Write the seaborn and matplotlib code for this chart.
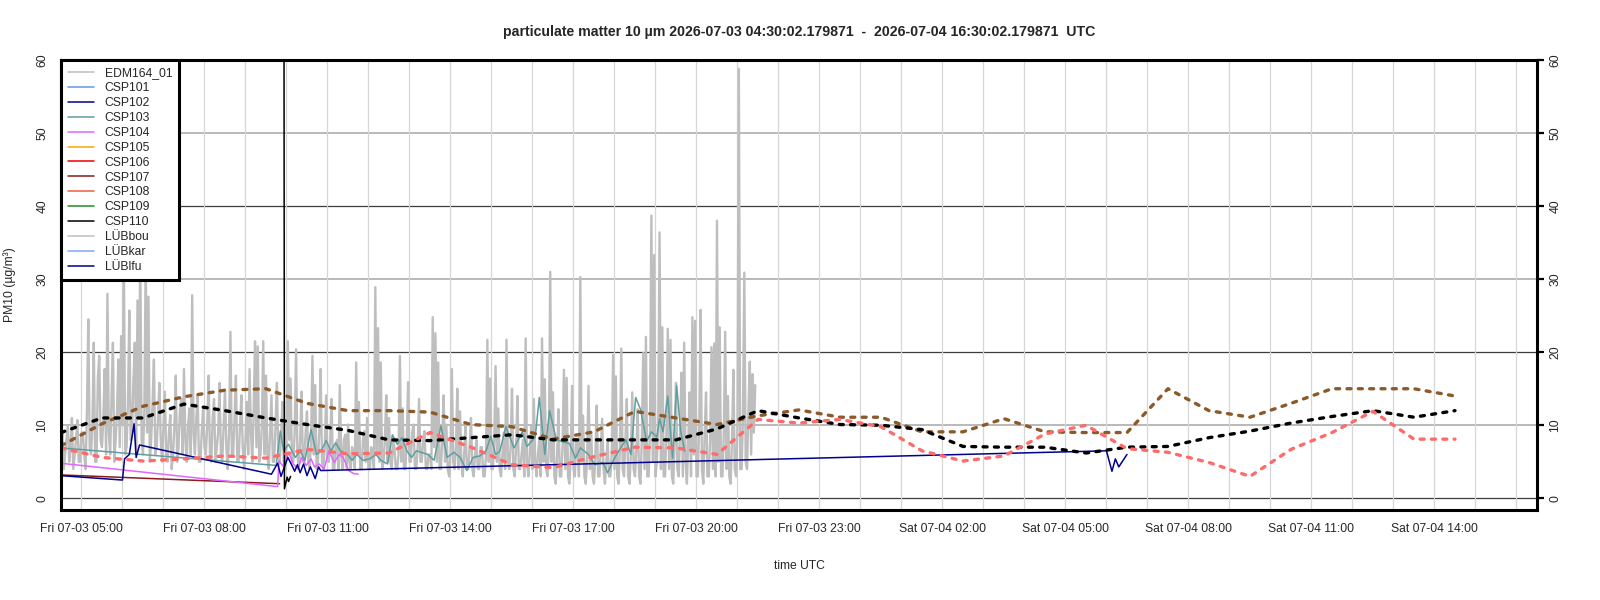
import pandas as pd
import matplotlib
matplotlib.use("Agg")
import matplotlib.pyplot as plt
import matplotlib.dates as mdates
from matplotlib.lines import Line2D
import seaborn as sns

# EDM164_01 reference monitor, 2 minute values starting 2026-07-03 04:30 (one row per hour)
edm_pm10 = [
    7, 9, 4, 6, 8, 10, 5, 7, 11, 4, 6, 8, 10.7, 5, 5, 9, 9, 6, 4, 12, 24.5, 7, 6, 10, 21.3, 5, 5, 16.5, 19.5, 8,
    7, 11, 17.7, 6, 28, 9, 6, 14, 21.3, 5, 8, 12, 19, 7, 22.2, 10, 33, 6, 7, 13, 25.7, 8, 9, 16, 21.3, 6, 27.1, 11, 34, 8,
    6, 12, 33, 9, 27.6, 5, 8, 13, 19, 6, 7, 11, 15.8, 8, 5, 10, 14.6, 6, 5, 9, 11.4, 4, 6, 10, 16.8, 5, 7, 12, 13.6, 6,
    17.7, 8, 5, 10, 12.3, 6, 27.8, 9, 6, 11, 14.1, 5, 5, 9, 12.3, 7, 6, 10, 16.8, 6, 5, 11, 13.6, 5, 7, 9, 15.8, 6, 5, 10,
    14.9, 7, 4, 9, 22.8, 6, 6, 11, 16.8, 5, 5, 10, 14.1, 7, 4, 8, 13.2, 6, 17.7, 9, 5, 12, 21.5, 7, 20.8, 5, 6, 10, 21.5, 6,
    16.8, 6, 4, 9, 14.1, 5, 5, 10, 15.8, 6, 5, 8, 13.2, 5, 4, 7, 21.5, 8, 16.4, 5, 5, 9, 20.4, 6, 4, 8, 14.6, 5, 5, 9,
    11.9, 5, 4, 8, 19.5, 6, 15.5, 4, 5, 9, 17.7, 5, 4, 7, 14.1, 5, 5, 8, 13.6, 4, 4, 7, 8, 4, 15.5, 6, 4, 8, 8.7, 4,
    10.1, 5, 4, 7, 6, 4, 18.6, 6, 13.2, 4, 4, 8, 9.2, 5, 11, 4, 4, 7, 6, 4, 28.9, 6, 23.3, 5, 18.6, 4, 5, 8, 14.1, 5,
    11, 5, 4, 8, 7, 4, 4, 6, 19.5, 5, 12.3, 4, 4, 8, 15.9, 5, 5, 9, 10.1, 4, 4, 7, 13.6, 5, 5, 8, 9.2, 4, 4, 6,
    6, 4, 24.8, 7, 22.6, 5, 18.6, 4, 4, 8, 14.1, 5, 10.1, 4, 3, 6, 17.7, 5, 4, 7, 15, 4, 11.9, 5, 3, 6, 10.1, 4, 4, 7,
    11, 4, 3, 6, 8, 4, 4, 7, 7, 3, 3, 6, 21.7, 5, 16.4, 4, 4, 8, 18.1, 5, 12.3, 4, 3, 6, 9, 4, 21.7, 5, 4, 7,
    15, 4, 3, 7, 14, 4, 4, 6, 8, 3, 21.9, 5, 3, 6, 10, 4, 13.6, 5, 3, 6, 8, 3, 21.9, 5, 16.3, 4, 3, 7, 31, 5,
    14.5, 3, 2, 6, 12.2, 3, 3, 7, 17.6, 4, 16.5, 3, 2, 6, 15.4, 4, 3, 8, 8, 3, 30.3, 5, 11.3, 3, 2, 6, 15.4, 4, 9.1, 3,
    2, 6, 12.7, 3, 3, 7, 10.9, 4, 2, 5, 8, 3, 3, 6, 19.6, 4, 16.7, 3, 2, 7, 20.5, 4, 3, 8, 13.6, 3, 2, 6, 14.5, 4,
    3, 7, 12.2, 3, 2, 8, 19.9, 4, 22.1, 3, 3, 9, 38.7, 5, 33.3, 3, 5, 10, 36.4, 4, 23.4, 3, 3, 9, 23.2, 4, 21.7, 3, 2, 8,
    15.8, 4, 3, 9, 17.2, 3, 21.3, 5, 2, 8, 14.5, 3, 24.8, 6, 24.3, 3, 3, 10, 25.8, 4, 2, 9, 14.5, 3, 3, 8, 20.7, 4, 21.2, 3,
    38, 5, 23.4, 3, 3, 9, 22.8, 4, 14, 3, 2, 8, 17.6, 4, 3, 10, 58.8, 4, 4, 11, 30.9, 5, 4, 12, 18.7, 6, 17, 9, 15.5,
]

# low cost sensors (irregular times)
csp102_time = ["07-03 04:30", "07-03 06:00", "07-03 06:03", "07-03 06:10", "07-03 06:17",
               "07-03 06:20", "07-03 06:25", "07-03 09:38", "07-03 09:47", "07-03 09:52",
               "07-03 10:02", "07-03 10:08", "07-03 10:12", "07-03 10:16", "07-03 10:20",
               "07-03 10:25", "07-03 10:30", "07-03 10:35", "07-03 10:42", "07-03 10:47",
               "07-03 10:50", "07-04 06:00", "07-04 06:08", "07-04 06:13", "07-04 06:18",
               "07-04 06:30"]
csp102_pm10 = [3.1, 2.5, 5.4, 6.0, 10.2, 5.6, 7.3, 3.3, 4.8, 3.0,
               5.6, 4.5, 3.7, 4.6, 3.5, 4.7, 3.1, 4.3, 2.7, 4.3,
               3.8, 6.5, 3.7, 5.4, 4.3, 6.0]

csp103_time = ["04:30", "09:45", "09:51", "09:56", "10:03", "10:13", "10:20", "10:27", "10:36",
               "10:44", "10:51", "10:58", "11:05", "11:12", "11:19", "11:29", "11:36", "11:43",
               "11:52", "12:02", "12:11", "12:18", "12:28", "12:35", "12:42", "12:49", "12:56",
               "13:03", "13:10", "13:17", "13:27", "13:36", "13:46", "13:55", "14:05", "14:14",
               "14:24", "14:33", "14:43", "14:52", "14:59", "15:06", "15:12", "15:21", "15:33",
               "15:45", "15:52", "16:04", "16:10", "16:18", "16:25", "16:35", "16:54", "17:03",
               "17:10", "17:22", "17:31", "17:43", "17:50", "18:00", "18:09", "18:17", "18:24",
               "18:31", "18:38", "18:47", "18:54", "19:02", "19:06", "19:11", "19:18", "19:25",
               "19:31", "19:37", "19:43"]
csp103_pm10 = [6.9, 4.5, 9.2, 6.5, 7.4, 5.6, 6.5, 5.2, 9.4,
               6.0, 6.5, 7.9, 6.5, 7.6, 6.5, 6.0, 5.2, 6.0,
               5.2, 5.4, 6.0, 5.2, 4.7, 8.7, 7.4, 8.3, 6.5,
               5.6, 6.5, 6.3, 6.0, 5.2, 9.9, 5.6, 6.3, 5.6,
               3.8, 5.6, 5.8, 6.5, 8.5, 6.0, 6.4, 9.8, 6.9,
               9.1, 7.1, 8.4, 13.8, 6.0, 12.0, 8.0, 7.5, 5.5,
               6.9, 6.0, 4.6, 4.9, 3.5, 5.5, 6.9, 8.0, 6.0,
               13.8, 12.2, 7.8, 9.1, 8.4, 10.9, 9.1, 14.0, 5.5,
               15.4, 9.1, 6.4]

csp104_time = ["04:30", "09:47", "09:49", "09:56", "10:03", "10:10", "10:17", "10:22", "10:29",
               "10:36", "10:41", "10:48", "10:55", "11:02", "11:10", "11:17", "11:23", "11:31",
               "11:38", "11:45"]
csp104_pm10 = [4.8, 1.6, 5.1, 4.3, 6.3, 4.7, 4.0, 5.6, 4.5,
               5.4, 4.3, 4.7, 4.0, 6.5, 4.9, 6.0, 5.6, 3.8,
               3.4, 3.3]

csp107_time = ["04:30", "09:50"]
csp107_pm10 = [3.2, 2.0]

csp110_time = ["09:54", "09:57", "10:01", "10:03", "10:06"]
csp110_pm10 = [300, 1.3, 2.9, 2.3, 3.0]

# hourly model forecasts (not in legend), values at hh:30
model_brown = [7.2, 10.2, 12.6, 13.9, 14.8, 15.0, 13.0, 12.0, 12.0, 11.8, 10.1, 9.8,
               8.1, 9.1, 11.9, 11.0, 10.1, 11.3, 12.1, 11.1, 11.1, 9.1, 9.1, 10.9,
               9.1, 9.0, 9.0, 15.0, 12.0, 11.1, 13.0, 15.0, 15.0, 15.0, 14.0]
model_black = [9.0, 11.0, 11.0, 12.9, 12.0, 11.0, 10.1, 9.3, 8.0, 7.9, 8.3, 8.7,
               8.0, 8.0, 8.0, 8.0, 9.5, 12.0, 11.0, 10.1, 10.0, 9.4, 7.1, 7.0,
               7.0, 6.2, 7.0, 7.1, 8.3, 9.2, 10.3, 11.2, 12.0, 11.1, 12.0]
model_salmon = [6.9, 5.6, 5.1, 5.4, 5.8, 5.5, 6.7, 6.1, 6.2, 9.0, 7.0, 4.6,
                4.2, 5.7, 7.0, 6.9, 6.0, 10.8, 10.3, 10.8, 9.8, 6.5, 5.1, 5.8,
                8.8, 10.0, 6.8, 6.3, 4.9, 3.0, 6.7, 9.0, 11.9, 8.1, 8.1]

legend_names = ["EDM164_01", "CSP101", "CSP102", "CSP103", "CSP104", "CSP105", "CSP106",
                "CSP107", "CSP108", "CSP109", "CSP110", "LÜBbou", "LÜBkar", "LÜBlfu"]
legend_colors = ["#bebebe", "#6495ed", "#00008b", "#5f9ea0", "#e066ff", "#ffa500", "#ee0000",
                 "#8b1a1a", "#ee5c42", "#228b22", "#000000", "#bebebe", "#7eaaf0", "#00008b"]
colors = dict(zip(legend_names, legend_colors))


def fri(times):
    return pd.to_datetime(["2026-07-03 " + t for t in times])


edm_time = pd.date_range("2026-07-03 04:30", periods=len(edm_pm10), freq="2min")
model_time = pd.date_range("2026-07-03 04:30", periods=len(model_brown), freq="h")

sns.set_style("white")
plt.rcParams["font.family"] = ["Liberation Sans", "DejaVu Sans"]

fig = plt.figure(figsize=(16, 6), dpi=100)
ax = fig.add_axes([61 / 1600, 90 / 600, 1476 / 1600, 450 / 600])

# horizontal grid, alternating dark / grey
for v in range(0, 61, 10):
    if v % 20 == 0:
        ax.axhline(v, color="#3c3c3c", lw=0.9, zorder=0.5)
    else:
        ax.axhline(v, color="#a6a6a6", lw=1.1, zorder=0.5)

sns.lineplot(x=edm_time, y=edm_pm10, ax=ax, color=colors["EDM164_01"], lw=1.7, estimator=None)
sns.lineplot(x=fri(csp107_time), y=csp107_pm10, ax=ax, color=colors["CSP107"], lw=1.1, estimator=None)
sns.lineplot(x=fri(csp104_time), y=csp104_pm10, ax=ax, color=colors["CSP104"], lw=1.1, estimator=None)
sns.lineplot(x=fri(csp103_time), y=csp103_pm10, ax=ax, color=colors["CSP103"], lw=1.1, estimator=None)
sns.lineplot(x=pd.to_datetime(["2026-" + t for t in csp102_time]), y=csp102_pm10, ax=ax,
             color=colors["CSP102"], lw=1.1, estimator=None)
sns.lineplot(x=fri(csp110_time), y=csp110_pm10, ax=ax, color=colors["CSP110"], lw=1.1,
             estimator=None, sort=False)

for vals, col in [(model_brown, "#8b5a2b"), (model_black, "#000000"), (model_salmon, "#ff6a6a")]:
    sns.lineplot(x=model_time, y=vals, ax=ax, color=col, lw=2.4, estimator=None)
    ax.lines[-1].set_linestyle((0, (1.2, 2.2)))
    ax.lines[-1].set_dash_capstyle("round")

ax.set_xlim(pd.Timestamp("2026-07-03 04:30:02"), pd.Timestamp("2026-07-04 16:30:02"))
ax.set_ylim(-1.6, 60)

ax.xaxis.set_major_locator(mdates.HourLocator(byhour=[2, 5, 8, 11, 14, 17, 20, 23]))
ax.xaxis.set_minor_locator(mdates.HourLocator())
ax.xaxis.set_major_formatter(mdates.DateFormatter("%a %m-%d %H:%M"))
ax.grid(axis="x", which="both", color="#d6d6d6", lw=0.9)
ax.set_axisbelow(True)

ax.set_yticks(range(0, 61, 10))
ax.tick_params(axis="both", which="both", direction="out", length=5, width=1.6,
               labelsize=8.7, color="black")
ax.tick_params(axis="x", pad=4.5)
ax.tick_params(axis="y", right=True, labelright=True, pad=4)
for t in ax.yaxis.get_major_ticks():
    for lab in (t.label1, t.label2):
        lab.set_rotation(90)
        lab.set_va("center")

for s in ax.spines.values():
    s.set_linewidth(2.2)
    s.set_color("black")

ax.set_xlabel("time UTC", fontsize=8.7, labelpad=18)
ax.set_ylabel("PM10 (µg/m³)", fontsize=8.7, labelpad=15)
ax.set_title("particulate matter 10 µm 2026-07-03 04:30:02.179871  -  2026-07-04 16:30:02.179871  UTC",
             fontsize=10.2, fontweight="bold", pad=17)

handles = [Line2D([], [], color=c, lw=1.1) for c in legend_colors]
leg = ax.legend(handles, legend_names, loc="upper left", fontsize=8.7, frameon=True,
                fancybox=False, framealpha=1, edgecolor="black", borderaxespad=0,
                labelspacing=0.24, handlelength=2.1, handletextpad=0.9, borderpad=0.6)
leg.get_frame().set_linewidth(2.2)
leg.set_zorder(10)

fig.savefig("out.png", dpi=100)
